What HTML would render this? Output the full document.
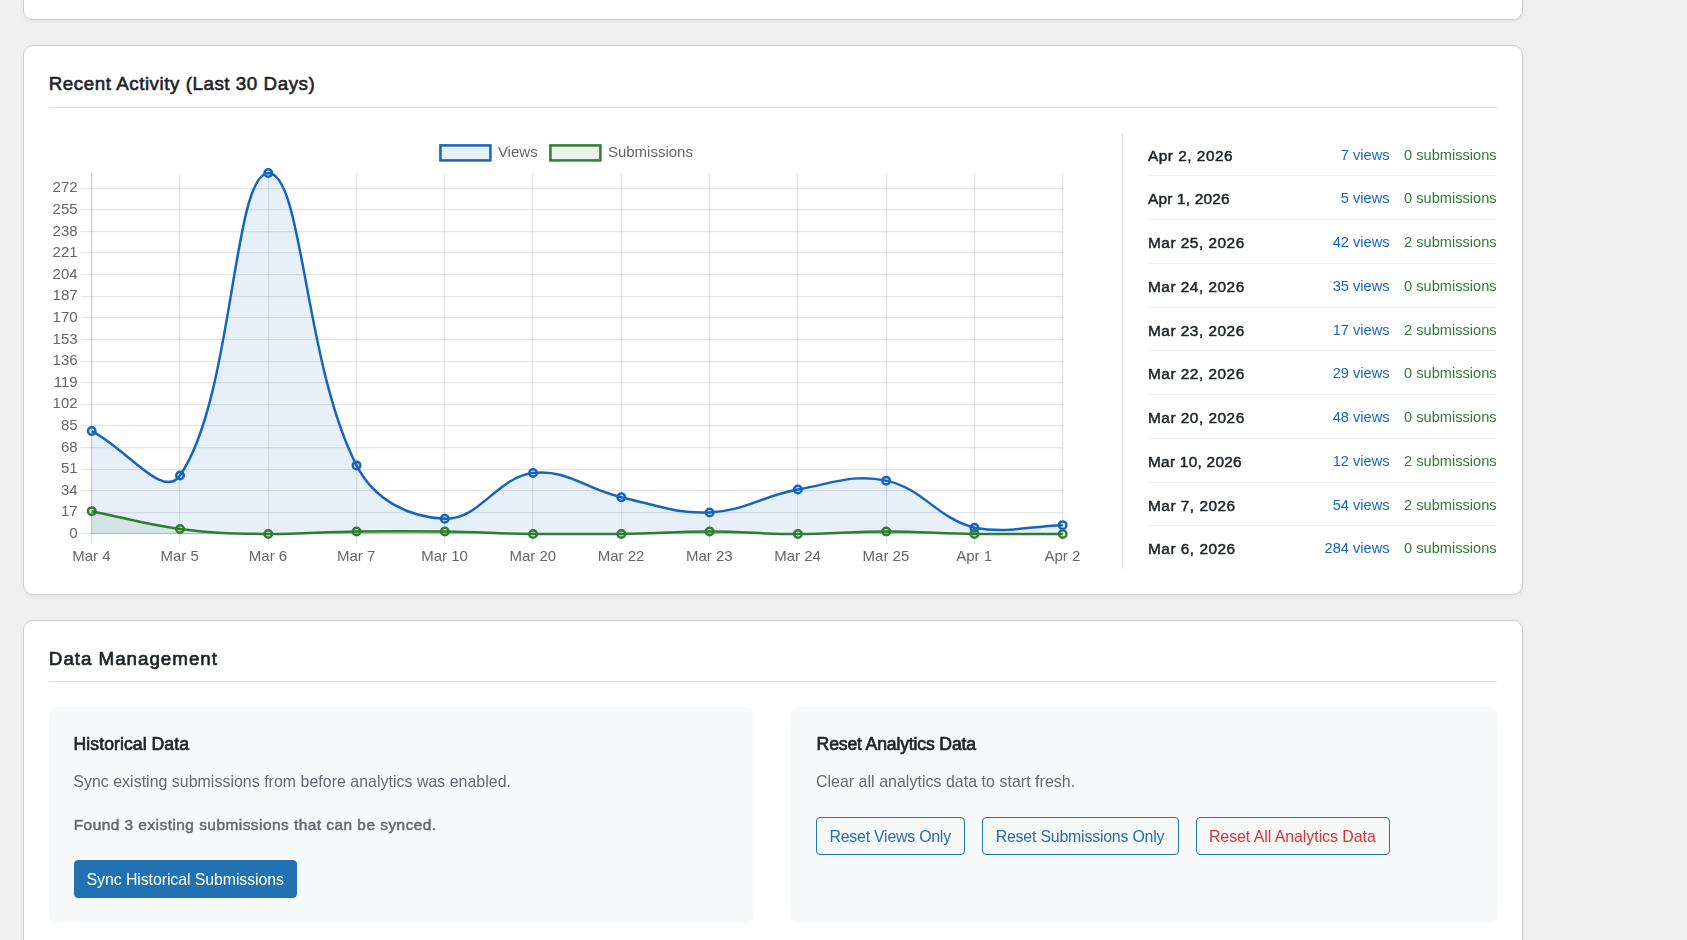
<!DOCTYPE html>
<html lang="en">
<head>
<meta charset="utf-8">
<title>Form Analytics</title>
<style>
*{box-sizing:border-box;margin:0;padding:0}
html,body{width:1687px;height:940px;overflow:hidden;background:#f0f0f1}
body{position:relative;font-family:"Liberation Sans",sans-serif;color:#1d2327}
.card{position:absolute;left:23px;width:1500px;background:#fff;border:1px solid #ccd0d4;border-radius:10px;box-shadow:0 1.25px 3.75px rgba(0,0,0,.055)}
#c0{top:-40px;height:60px}
#c1{top:45px;height:550px}
#c2{top:620px;height:360px}
.hr{position:absolute;left:49px;width:1448px;height:1px;background:#dcdfe4}
.chart{position:absolute;left:0;top:0;will-change:transform}
.tk{font-family:"Liberation Sans",sans-serif;font-size:15px;fill:#666}
.divider{position:absolute;left:1122px;top:133px;width:1px;height:436px;background:#dcdfe4}
.sep{position:absolute;left:1148px;width:349px;height:1px;background:#f0f0f1}
.t{position:absolute;white-space:nowrap;line-height:30px;font-weight:400}
#h2a{-webkit-text-stroke:0.6px currentColor}
.layer{position:absolute;left:0;top:0;width:1687px;height:940px;will-change:transform}
.sb{-webkit-text-stroke:0.5px currentColor}
.sb3{-webkit-text-stroke:0.7px currentColor}
.sb2{-webkit-text-stroke:0.7px currentColor}
.sub{position:absolute;top:707px;height:216px;background:#f8f9fa;border-radius:7.5px}
.btn{position:absolute;height:38px;border:1px solid #2271b1;border-radius:4px;background:#f6f7f7}
.btn.primary{background:#2271b1}
</style>
</head>
<body>
<div class="card" id="c0"></div>
<div class="card" id="c1"></div>
<div class="card" id="c2"></div>
<div class="hr" style="top:107px"></div>
<h2 class="t sb2" id="h2a" style="top:69px;font-size:18.80px;color:#1d2327;letter-spacing:0.535px;left:48.74px;">Recent Activity (Last 30 Days)</h2>
<svg class="chart" width="1687" height="940" viewBox="0 0 1687 940">
<rect x="91" y="173.02" width="1.25" height="371.01" fill="rgba(0,0,0,0.1)"/>
<rect x="179" y="173.02" width="1.25" height="371.01" fill="rgba(0,0,0,0.1)"/>
<rect x="268" y="173.02" width="1.25" height="371.01" fill="rgba(0,0,0,0.1)"/>
<rect x="356" y="173.02" width="1.25" height="371.01" fill="rgba(0,0,0,0.1)"/>
<rect x="444" y="173.02" width="1.25" height="371.01" fill="rgba(0,0,0,0.1)"/>
<rect x="532" y="173.02" width="1.25" height="371.01" fill="rgba(0,0,0,0.1)"/>
<rect x="621" y="173.02" width="1.25" height="371.01" fill="rgba(0,0,0,0.1)"/>
<rect x="709" y="173.02" width="1.25" height="371.01" fill="rgba(0,0,0,0.1)"/>
<rect x="797" y="173.02" width="1.25" height="371.01" fill="rgba(0,0,0,0.1)"/>
<rect x="886" y="173.02" width="1.25" height="371.01" fill="rgba(0,0,0,0.1)"/>
<rect x="974" y="173.02" width="1.25" height="371.01" fill="rgba(0,0,0,0.1)"/>
<rect x="1062" y="173.02" width="1.25" height="371.01" fill="rgba(0,0,0,0.1)"/>
<rect x="81" y="533" width="982.25" height="1.25" fill="rgba(0,0,0,0.1)"/>
<rect x="81" y="512" width="982.25" height="1.25" fill="rgba(0,0,0,0.1)"/>
<rect x="81" y="490" width="982.25" height="1.25" fill="rgba(0,0,0,0.1)"/>
<rect x="81" y="469" width="982.25" height="1.25" fill="rgba(0,0,0,0.1)"/>
<rect x="81" y="447" width="982.25" height="1.25" fill="rgba(0,0,0,0.1)"/>
<rect x="81" y="425" width="982.25" height="1.25" fill="rgba(0,0,0,0.1)"/>
<rect x="81" y="404" width="982.25" height="1.25" fill="rgba(0,0,0,0.1)"/>
<rect x="81" y="382" width="982.25" height="1.25" fill="rgba(0,0,0,0.1)"/>
<rect x="81" y="361" width="982.25" height="1.25" fill="rgba(0,0,0,0.1)"/>
<rect x="81" y="339" width="982.25" height="1.25" fill="rgba(0,0,0,0.1)"/>
<rect x="81" y="317" width="982.25" height="1.25" fill="rgba(0,0,0,0.1)"/>
<rect x="81" y="296" width="982.25" height="1.25" fill="rgba(0,0,0,0.1)"/>
<rect x="81" y="274" width="982.25" height="1.25" fill="rgba(0,0,0,0.1)"/>
<rect x="81" y="252" width="982.25" height="1.25" fill="rgba(0,0,0,0.1)"/>
<rect x="81" y="231" width="982.25" height="1.25" fill="rgba(0,0,0,0.1)"/>
<rect x="81" y="209" width="982.25" height="1.25" fill="rgba(0,0,0,0.1)"/>
<rect x="81" y="188" width="982.25" height="1.25" fill="rgba(0,0,0,0.1)"/>
<rect x="91" y="173.02" width="1.25" height="361.01" fill="rgba(0,0,0,0.1)"/>
<rect x="91" y="533" width="972.25" height="1.25" fill="rgba(0,0,0,0.1)"/>
<path d="M91.73,431.06 C127.04,448.86 163.14,500.20 180.00,475.56 C233.76,396.98 232.41,175.08 268.27,173.02 C303.02,173.02 303.75,362.00 356.54,465.39 C374.37,500.31 408.85,517.22 444.81,518.78 C479.47,520.27 496.31,477.51 533.08,473.01 C566.92,468.87 585.66,489.20 621.35,497.17 C656.28,504.96 674.63,513.93 709.62,512.42 C745.24,510.88 762.10,495.98 797.89,489.54 C832.71,483.27 852.97,473.47 886.16,480.64 C923.58,488.72 936.93,518.22 974.43,527.67 C1007.54,534.03 1027.39,526.15 1062.70,525.13 L1062.70,534.03 L91.73,534.03 Z" fill="#1565c0" fill-opacity="0.1"/>
<path d="M91.73,511.15 C127.04,518.27 144.37,524.33 180.00,528.95 C214.99,533.48 232.94,533.52 268.27,534.03 C303.56,534.03 321.22,532.00 356.54,531.49 C391.84,530.98 409.51,530.98 444.81,531.49 C480.13,532.00 497.76,533.52 533.08,534.03 C568.38,534.03 586.05,534.03 621.35,534.03 C656.67,533.52 674.31,531.49 709.62,531.49 C744.93,531.49 762.58,534.03 797.89,534.03 C833.20,534.03 850.85,531.49 886.16,531.49 C921.47,531.49 939.11,533.52 974.43,534.03 C1009.73,534.03 1027.39,534.03 1062.70,534.03 L1062.70,534.03 L91.73,534.03 Z" fill="#2e7d32" fill-opacity="0.1"/>
<path d="M91.73,431.06 C127.04,448.86 163.14,500.20 180.00,475.56 C233.76,396.98 232.41,175.08 268.27,173.02 C303.02,173.02 303.75,362.00 356.54,465.39 C374.37,500.31 408.85,517.22 444.81,518.78 C479.47,520.27 496.31,477.51 533.08,473.01 C566.92,468.87 585.66,489.20 621.35,497.17 C656.28,504.96 674.63,513.93 709.62,512.42 C745.24,510.88 762.10,495.98 797.89,489.54 C832.71,483.27 852.97,473.47 886.16,480.64 C923.58,488.72 936.93,518.22 974.43,527.67 C1007.54,534.03 1027.39,526.15 1062.70,525.13" fill="none" stroke="#1565c0" stroke-width="2.5"/>
<path d="M91.73,511.15 C127.04,518.27 144.37,524.33 180.00,528.95 C214.99,533.48 232.94,533.52 268.27,534.03 C303.56,534.03 321.22,532.00 356.54,531.49 C391.84,530.98 409.51,530.98 444.81,531.49 C480.13,532.00 497.76,533.52 533.08,534.03 C568.38,534.03 586.05,534.03 621.35,534.03 C656.67,533.52 674.31,531.49 709.62,531.49 C744.93,531.49 762.58,534.03 797.89,534.03 C833.20,534.03 850.85,531.49 886.16,531.49 C921.47,531.49 939.11,533.52 974.43,534.03 C1009.73,534.03 1027.39,534.03 1062.70,534.03" fill="none" stroke="#2e7d32" stroke-width="2.5"/>
<circle cx="91.73" cy="431.06" r="3.75" fill="#1565c0" fill-opacity="0.1"/>
<circle cx="91.73" cy="431.06" r="3.75" fill="none" stroke="#1565c0" stroke-width="2.5"/>
<circle cx="180.00" cy="475.56" r="3.75" fill="#1565c0" fill-opacity="0.1"/>
<circle cx="180.00" cy="475.56" r="3.75" fill="none" stroke="#1565c0" stroke-width="2.5"/>
<circle cx="268.27" cy="173.02" r="3.75" fill="#1565c0" fill-opacity="0.1"/>
<circle cx="268.27" cy="173.02" r="3.75" fill="none" stroke="#1565c0" stroke-width="2.5"/>
<circle cx="356.54" cy="465.39" r="3.75" fill="#1565c0" fill-opacity="0.1"/>
<circle cx="356.54" cy="465.39" r="3.75" fill="none" stroke="#1565c0" stroke-width="2.5"/>
<circle cx="444.81" cy="518.78" r="3.75" fill="#1565c0" fill-opacity="0.1"/>
<circle cx="444.81" cy="518.78" r="3.75" fill="none" stroke="#1565c0" stroke-width="2.5"/>
<circle cx="533.08" cy="473.01" r="3.75" fill="#1565c0" fill-opacity="0.1"/>
<circle cx="533.08" cy="473.01" r="3.75" fill="none" stroke="#1565c0" stroke-width="2.5"/>
<circle cx="621.35" cy="497.17" r="3.75" fill="#1565c0" fill-opacity="0.1"/>
<circle cx="621.35" cy="497.17" r="3.75" fill="none" stroke="#1565c0" stroke-width="2.5"/>
<circle cx="709.62" cy="512.42" r="3.75" fill="#1565c0" fill-opacity="0.1"/>
<circle cx="709.62" cy="512.42" r="3.75" fill="none" stroke="#1565c0" stroke-width="2.5"/>
<circle cx="797.89" cy="489.54" r="3.75" fill="#1565c0" fill-opacity="0.1"/>
<circle cx="797.89" cy="489.54" r="3.75" fill="none" stroke="#1565c0" stroke-width="2.5"/>
<circle cx="886.16" cy="480.64" r="3.75" fill="#1565c0" fill-opacity="0.1"/>
<circle cx="886.16" cy="480.64" r="3.75" fill="none" stroke="#1565c0" stroke-width="2.5"/>
<circle cx="974.43" cy="527.67" r="3.75" fill="#1565c0" fill-opacity="0.1"/>
<circle cx="974.43" cy="527.67" r="3.75" fill="none" stroke="#1565c0" stroke-width="2.5"/>
<circle cx="1062.70" cy="525.13" r="3.75" fill="#1565c0" fill-opacity="0.1"/>
<circle cx="1062.70" cy="525.13" r="3.75" fill="none" stroke="#1565c0" stroke-width="2.5"/>
<circle cx="91.73" cy="511.15" r="3.75" fill="#2e7d32" fill-opacity="0.1"/>
<circle cx="91.73" cy="511.15" r="3.75" fill="none" stroke="#2e7d32" stroke-width="2.5"/>
<circle cx="180.00" cy="528.95" r="3.75" fill="#2e7d32" fill-opacity="0.1"/>
<circle cx="180.00" cy="528.95" r="3.75" fill="none" stroke="#2e7d32" stroke-width="2.5"/>
<circle cx="268.27" cy="534.03" r="3.75" fill="#2e7d32" fill-opacity="0.1"/>
<circle cx="268.27" cy="534.03" r="3.75" fill="none" stroke="#2e7d32" stroke-width="2.5"/>
<circle cx="356.54" cy="531.49" r="3.75" fill="#2e7d32" fill-opacity="0.1"/>
<circle cx="356.54" cy="531.49" r="3.75" fill="none" stroke="#2e7d32" stroke-width="2.5"/>
<circle cx="444.81" cy="531.49" r="3.75" fill="#2e7d32" fill-opacity="0.1"/>
<circle cx="444.81" cy="531.49" r="3.75" fill="none" stroke="#2e7d32" stroke-width="2.5"/>
<circle cx="533.08" cy="534.03" r="3.75" fill="#2e7d32" fill-opacity="0.1"/>
<circle cx="533.08" cy="534.03" r="3.75" fill="none" stroke="#2e7d32" stroke-width="2.5"/>
<circle cx="621.35" cy="534.03" r="3.75" fill="#2e7d32" fill-opacity="0.1"/>
<circle cx="621.35" cy="534.03" r="3.75" fill="none" stroke="#2e7d32" stroke-width="2.5"/>
<circle cx="709.62" cy="531.49" r="3.75" fill="#2e7d32" fill-opacity="0.1"/>
<circle cx="709.62" cy="531.49" r="3.75" fill="none" stroke="#2e7d32" stroke-width="2.5"/>
<circle cx="797.89" cy="534.03" r="3.75" fill="#2e7d32" fill-opacity="0.1"/>
<circle cx="797.89" cy="534.03" r="3.75" fill="none" stroke="#2e7d32" stroke-width="2.5"/>
<circle cx="886.16" cy="531.49" r="3.75" fill="#2e7d32" fill-opacity="0.1"/>
<circle cx="886.16" cy="531.49" r="3.75" fill="none" stroke="#2e7d32" stroke-width="2.5"/>
<circle cx="974.43" cy="534.03" r="3.75" fill="#2e7d32" fill-opacity="0.1"/>
<circle cx="974.43" cy="534.03" r="3.75" fill="none" stroke="#2e7d32" stroke-width="2.5"/>
<circle cx="1062.70" cy="534.03" r="3.75" fill="#2e7d32" fill-opacity="0.1"/>
<circle cx="1062.70" cy="534.03" r="3.75" fill="none" stroke="#2e7d32" stroke-width="2.5"/>
<text x="77.6" y="538.0" text-anchor="end" class="tk">0</text>
<text x="77.6" y="516.4" text-anchor="end" class="tk">17</text>
<text x="77.6" y="494.8" text-anchor="end" class="tk">34</text>
<text x="77.6" y="473.2" text-anchor="end" class="tk">51</text>
<text x="77.6" y="451.6" text-anchor="end" class="tk">68</text>
<text x="77.6" y="430.0" text-anchor="end" class="tk">85</text>
<text x="77.6" y="408.4" text-anchor="end" class="tk">102</text>
<text x="77.6" y="386.8" text-anchor="end" class="tk">119</text>
<text x="77.6" y="365.1" text-anchor="end" class="tk">136</text>
<text x="77.6" y="343.5" text-anchor="end" class="tk">153</text>
<text x="77.6" y="321.9" text-anchor="end" class="tk">170</text>
<text x="77.6" y="300.3" text-anchor="end" class="tk">187</text>
<text x="77.6" y="278.7" text-anchor="end" class="tk">204</text>
<text x="77.6" y="257.1" text-anchor="end" class="tk">221</text>
<text x="77.6" y="235.5" text-anchor="end" class="tk">238</text>
<text x="77.6" y="213.9" text-anchor="end" class="tk">255</text>
<text x="77.6" y="192.3" text-anchor="end" class="tk">272</text>
<text x="91.4" y="560.7" text-anchor="middle" class="tk">Mar 4</text>
<text x="179.7" y="560.7" text-anchor="middle" class="tk">Mar 5</text>
<text x="268.0" y="560.7" text-anchor="middle" class="tk">Mar 6</text>
<text x="356.2" y="560.7" text-anchor="middle" class="tk">Mar 7</text>
<text x="444.5" y="560.7" text-anchor="middle" class="tk">Mar 10</text>
<text x="532.8" y="560.7" text-anchor="middle" class="tk">Mar 20</text>
<text x="621.1" y="560.7" text-anchor="middle" class="tk">Mar 22</text>
<text x="709.3" y="560.7" text-anchor="middle" class="tk">Mar 23</text>
<text x="797.6" y="560.7" text-anchor="middle" class="tk">Mar 24</text>
<text x="885.9" y="560.7" text-anchor="middle" class="tk">Mar 25</text>
<text x="974.1" y="560.7" text-anchor="middle" class="tk">Apr 1</text>
<text x="1062.4" y="560.7" text-anchor="middle" class="tk">Apr 2</text>
<rect x="440.40" y="145.4" width="50" height="15" fill="#1565c0" fill-opacity="0.1"/>
<rect x="440.40" y="145.4" width="50" height="15" fill="none" stroke="#1565c0" stroke-width="2.5"/>
<rect x="550.40" y="145.4" width="50" height="15" fill="#2e7d32" fill-opacity="0.1"/>
<rect x="550.40" y="145.4" width="50" height="15" fill="none" stroke="#2e7d32" stroke-width="2.5"/>
<text x="497.9" y="156.7" class="tk">Views</text>
<text x="607.9" y="156.7" class="tk">Submissions</text>
</svg>
<div class="divider"></div>
<div class="sep" style="top:175px"></div>
<div class="sep" style="top:219px"></div>
<div class="sep" style="top:263px"></div>
<div class="sep" style="top:307px"></div>
<div class="sep" style="top:350px"></div>
<div class="sep" style="top:394px"></div>
<div class="sep" style="top:438px"></div>
<div class="sep" style="top:482px"></div>
<div class="sep" style="top:525px"></div>
<div class="hr" style="top:681px"></div>
<div class="sub" style="left:49px;width:705px"></div>
<div class="sub" style="left:791px;width:706px"></div>
<div class="btn primary" style="left:74px;top:860px;width:223px"></div>
<div class="btn" style="left:816px;top:817px;width:149px"></div>
<div class="btn" style="left:982px;top:817px;width:197px"></div>
<div class="btn" style="left:1196px;top:817px;width:194px"></div>
<div class="layer">
<h2 class="t sb2" id="h2b" style="top:644px;font-size:18.80px;color:#1d2327;letter-spacing:0.971px;left:48.85px;">Data Management</h2>
<h3 class="t sb3" id="h3a" style="top:729px;font-size:17.60px;color:#1d2327;letter-spacing:0.074px;left:73.54px;">Historical Data</h3>
<h3 class="t sb3" id="h3b" style="top:729px;font-size:17.60px;color:#1d2327;letter-spacing:-0.152px;left:816.62px;">Reset Analytics Data</h3>
<p class="t rg" id="p1" style="top:767px;font-size:15.90px;color:#646970;letter-spacing:0.038px;left:73.31px;">Sync existing submissions from before analytics was enabled.</p>
<p class="t sb" id="p2" style="top:810px;font-size:15.40px;color:#646970;letter-spacing:0.486px;left:73.71px;">Found 3 existing submissions that can be synced.</p>
<p class="t rg" id="p3" style="top:767px;font-size:15.90px;color:#646970;letter-spacing:0.058px;left:815.89px;">Clear all analytics data to start fresh.</p>
<span class="t rg" id="b1" style="top:865px;font-size:15.90px;color:#fff;letter-spacing:-0.085px;left:86.59px;">Sync Historical Submissions</span>
<span class="t rg" id="b2" style="top:822px;font-size:15.90px;color:#2271b1;letter-spacing:-0.234px;left:829.50px;">Reset Views Only</span>
<span class="t rg" id="b3" style="top:822px;font-size:15.90px;color:#2271b1;letter-spacing:-0.203px;left:995.70px;">Reset Submissions Only</span>
<span class="t rg" id="b4" style="top:822px;font-size:15.90px;color:#d63638;letter-spacing:-0.043px;left:1208.91px;">Reset All Analytics Data</span>
<span class="t sb" id="d0" style="top:141px;font-size:15.40px;color:#1d2327;letter-spacing:0.500px;left:1148.00px;">Apr 2, 2026</span>
<span class="t rg" id="v0" style="top:140px;font-size:14.60px;color:#1565c0;right:297.50px;">7 views</span>
<span class="t rg" id="s0" style="top:140px;font-size:14.60px;color:#2e7d32;right:190.43px;">0 submissions</span>
<span class="t sb" id="d1" style="top:184px;font-size:15.40px;color:#1d2327;letter-spacing:0.193px;left:1148.00px;">Apr 1, 2026</span>
<span class="t rg" id="v1" style="top:183px;font-size:14.60px;color:#1565c0;right:297.50px;">5 views</span>
<span class="t rg" id="s1" style="top:183px;font-size:14.60px;color:#2e7d32;right:190.43px;">0 submissions</span>
<span class="t sb" id="d2" style="top:228px;font-size:15.40px;color:#1d2327;letter-spacing:0.500px;left:1148.00px;">Mar 25, 2026</span>
<span class="t rg" id="v2" style="top:227px;font-size:14.60px;color:#1565c0;right:297.50px;">42 views</span>
<span class="t rg" id="s2" style="top:227px;font-size:14.60px;color:#2e7d32;right:190.43px;">2 submissions</span>
<span class="t sb" id="d3" style="top:272px;font-size:15.40px;color:#1d2327;letter-spacing:0.500px;left:1148.00px;">Mar 24, 2026</span>
<span class="t rg" id="v3" style="top:271px;font-size:14.60px;color:#1565c0;right:297.50px;">35 views</span>
<span class="t rg" id="s3" style="top:271px;font-size:14.60px;color:#2e7d32;right:190.43px;">0 submissions</span>
<span class="t sb" id="d4" style="top:316px;font-size:15.40px;color:#1d2327;letter-spacing:0.500px;left:1148.00px;">Mar 23, 2026</span>
<span class="t rg" id="v4" style="top:315px;font-size:14.60px;color:#1565c0;right:297.50px;">17 views</span>
<span class="t rg" id="s4" style="top:315px;font-size:14.60px;color:#2e7d32;right:190.43px;">2 submissions</span>
<span class="t sb" id="d5" style="top:359px;font-size:15.40px;color:#1d2327;letter-spacing:0.500px;left:1148.00px;">Mar 22, 2026</span>
<span class="t rg" id="v5" style="top:358px;font-size:14.60px;color:#1565c0;right:297.50px;">29 views</span>
<span class="t rg" id="s5" style="top:358px;font-size:14.60px;color:#2e7d32;right:190.43px;">0 submissions</span>
<span class="t sb" id="d6" style="top:403px;font-size:15.40px;color:#1d2327;letter-spacing:0.500px;left:1148.00px;">Mar 20, 2026</span>
<span class="t rg" id="v6" style="top:402px;font-size:14.60px;color:#1565c0;right:297.50px;">48 views</span>
<span class="t rg" id="s6" style="top:402px;font-size:14.60px;color:#2e7d32;right:190.43px;">0 submissions</span>
<span class="t sb" id="d7" style="top:447px;font-size:15.40px;color:#1d2327;letter-spacing:0.267px;left:1148.00px;">Mar 10, 2026</span>
<span class="t rg" id="v7" style="top:446px;font-size:14.60px;color:#1565c0;right:297.50px;">12 views</span>
<span class="t rg" id="s7" style="top:446px;font-size:14.60px;color:#2e7d32;right:190.43px;">2 submissions</span>
<span class="t sb" id="d8" style="top:491px;font-size:15.40px;color:#1d2327;letter-spacing:0.500px;left:1148.00px;">Mar 7, 2026</span>
<span class="t rg" id="v8" style="top:490px;font-size:14.60px;color:#1565c0;right:297.50px;">54 views</span>
<span class="t rg" id="s8" style="top:490px;font-size:14.60px;color:#2e7d32;right:190.43px;">2 submissions</span>
<span class="t sb" id="d9" style="top:534px;font-size:15.40px;color:#1d2327;letter-spacing:0.500px;left:1148.00px;">Mar 6, 2026</span>
<span class="t rg" id="v9" style="top:533px;font-size:14.60px;color:#1565c0;right:297.50px;">284 views</span>
<span class="t rg" id="s9" style="top:533px;font-size:14.60px;color:#2e7d32;right:190.43px;">0 submissions</span>
</div>
</body>
</html>
